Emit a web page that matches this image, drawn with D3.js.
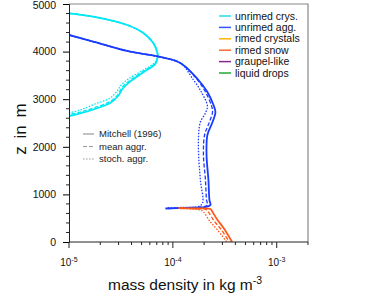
<!DOCTYPE html>
<html><head><meta charset="utf-8">
<script src="https://cdn.jsdelivr.net/npm/d3@7"></script>
<style>body{margin:0;background:#fff}svg{display:block;font-family:"Liberation Sans",Arial,sans-serif}</style>
</head><body><svg id="c" width="368" height="305"></svg>
<script>
// ---- data ----
const zCrysSolid = [4805,4733,4559,4391,4181,3971,3866,3739,3592,3403,3235,3067,2920,2794,2700,2647];
const crysSolid  = [1.0e-5,1.71e-5,3.63e-5,5.19e-5,6.48e-5,7.1e-5,7.1e-5,6.78e-5,5.42e-5,4.06e-5,3.32e-5,2.97e-5,2.49e-5,1.78e-5,1.28e-5,1.0e-5];
const zCrysDash  = [4805,4733,4559,4391,4181,3971,3866,3745,3600,3412,3250,3085,2945,2820,2725,2675];
const crysDash   = [1.0e-5,1.71e-5,3.63e-5,5.19e-5,6.48e-5,7.1e-5,7.1e-5,6.7e-5,5.3e-5,3.95e-5,3.25e-5,2.93e-5,2.45e-5,1.75e-5,1.26e-5,1.0e-5];
const zCrysDot   = [4805,4733,4559,4391,4181,3971,3866,3761,3613,3424,3298,3172,3025,2899,2773,2710];
const crysDot    = [1.0e-5,1.71e-5,3.63e-5,5.19e-5,6.48e-5,7.1e-5,7.1e-5,6.63e-5,5.19e-5,3.72e-5,3.18e-5,2.91e-5,2.49e-5,1.78e-5,1.28e-5,1.0e-5];

const zAggSolid = [4349,4212,4013,3887,3761,3424,3151,2878,2731,2521,2248,1828,1303,882,777,735,718,704];
const aggSolid  = [1e-5,1.71e-5,3.63e-5,7.57e-5,1.18e-4,1.73e-4,2.15e-4,2.46e-4,2.57e-4,2.41e-4,2.15e-4,2.11e-4,2.20e-4,2.25e-4,2.30e-4,2.06e-4,1.32e-4,8.47e-5];
const zAggDash  = [4349,4212,4013,3887,3761,3424,3151,2857,2731,2521,2248,1828,1303,882,777,735,714,704];
const aggDash   = [1e-5,1.71e-5,3.63e-5,7.57e-5,1.18e-4,1.70e-4,2.06e-4,2.36e-4,2.41e-4,2.25e-4,2.02e-4,1.97e-4,2.06e-4,2.11e-4,2.15e-4,1.84e-4,1.18e-4,9.0e-5];
const zAggDot   = [4349,4212,4013,3887,3761,3403,3151,2857,2710,2521,2248,1828,1303,819,745,725,714];
const aggDot    = [1e-5,1.71e-5,3.63e-5,7.57e-5,1.18e-4,1.58e-4,1.88e-4,2.15e-4,2.06e-4,1.84e-4,1.77e-4,1.77e-4,1.84e-4,1.93e-4,1.76e-4,1.18e-4,8.8e-5];

const zSnowSolid = [714,704,693,630,462,294,0];
const snowSolid  = [1.13e-4,1.65e-4,2.30e-4,2.41e-4,2.69e-4,3.08e-4,3.72e-4];
const zSnowDash  = [712,700,680,630,440,270,0];
const snowDash   = [1.15e-4,1.7e-4,2.1e-4,2.2e-4,2.5e-4,2.9e-4,3.5e-4];
const zSnowDot   = [704,672,630,420,252,0];
const snowDot    = [1.18e-4,1.84e-4,1.97e-4,2.30e-4,2.69e-4,3.3e-4];

const legendNames  = ["unrimed crys.","unrimed agg.","rimed crystals","rimed snow","graupel-like","liquid drops"];
const legendColors = ["#22dded","#3355ff","#ffb400","#ff6a33","#8b2a8b","#22aa33"];
const styleNames   = ["Mitchell (1996)","mean aggr.","stoch. aggr."];
const yTicks = [0,1000,2000,3000,4000,5000];
const xTickExp = [-5,-4,-3];

// ---- layout ----
const svg = d3.select("#c");
const L=69, R=308, T=4, B=242;
const x = d3.scaleLog().domain([1e-5,2e-3]).range([L,R]);
const y = d3.scaleLinear().domain([0,5000]).range([B,T]);

svg.append("clipPath").attr("id","clip").append("rect").attr("x",L).attr("y",T).attr("width",R-L).attr("height",B-T);
const g = svg.append("g").attr("clip-path","url(#clip)");

const line = d3.line().x(d=>x(d[1])).y(d=>y(d[0])).curve(d3.curveCatmullRom.alpha(0.5));
const dashes = [null,"4,2","1.5,1.5"];
const seriesSets = [
  {c:"#00e8f4", sets:[[zCrysSolid,crysSolid],[zCrysDash,crysDash],[zCrysDot,crysDot]]},
  {c:"#1a3cff", sets:[[zAggSolid,aggSolid],[zAggDash,aggDash],[zAggDot,aggDot]]},
  {c:"#ff5a1a", sets:[[zSnowSolid,snowSolid],[zSnowDash,snowDash],[zSnowDot,snowDot]]}
];
seriesSets.forEach(s=>{
  s.sets.forEach((p,i)=>{
    const pts = p[0].map((z,k)=>[z,p[1][k]]);
    g.append("path").attr("d",line(pts)).attr("fill","none").attr("stroke",s.c)
      .attr("stroke-width", i===0?1.8:1.3).attr("stroke-dasharray",dashes[i]);
  });
});

// frame
svg.append("path").attr("d",`M${L},${T}H${R}V${B}`).attr("fill","none").attr("stroke","#888").attr("stroke-width",1.2);

// axes
const ya = d3.axisLeft(y).tickValues(yTicks).tickSize(6).tickFormat(d3.format("d"));
const yg = svg.append("g").attr("transform",`translate(${L},0)`).call(ya);
yg.select(".domain").attr("stroke","#222");
yg.selectAll("text").attr("font-size",10.5).attr("fill","#111").attr("x",-13)
  .attr("dy",d=>d===5000?"0.45em":"0.32em");
const yMinor = d3.range(0,5001,200).filter(v=>v%1000!==0);
yg.selectAll(".mn").data(yMinor).enter().append("line").attr("x1",0).attr("x2",-3).attr("y1",d=>y(d)).attr("y2",d=>y(d)).attr("stroke","#222");

const xMinor=[];
[1e-5,1e-4,1e-3].forEach(b=>{for(let k=2;k<=9;k++){const v=b*k; if(v<=2e-3) xMinor.push(v);}});
const xg = svg.append("g").attr("transform",`translate(0,${B})`);
xg.append("line").attr("x1",L).attr("x2",R).attr("stroke","#222");
xg.selectAll(".mj").data(xTickExp).enter().append("line").attr("x1",d=>x(Math.pow(10,d))).attr("x2",d=>x(Math.pow(10,d))).attr("y1",0).attr("y2",6).attr("stroke","#222");
xg.selectAll(".mn").data(xMinor).enter().append("line").attr("x1",d=>x(d)).attr("x2",d=>x(d)).attr("y1",0).attr("y2",3).attr("stroke","#222");
const xl = xg.selectAll(".tl").data(xTickExp).enter().append("text").attr("x",d=>x(Math.pow(10,d))).attr("y",24).attr("text-anchor","middle").attr("font-size",10).attr("fill","#111");
xl.append("tspan").text("10");
xl.append("tspan").attr("dy",-4).attr("font-size",7).text(d=>String(d));

// axis titles
svg.append("text").attr("transform","translate(26,129) rotate(-90)").attr("text-anchor","middle").attr("font-size",17).attr("word-spacing",3).attr("fill","#111").text("z in m");
const xt = svg.append("text").attr("x",108).attr("y",290).attr("font-size",15.5).attr("fill","#111");
xt.append("tspan").text("mass density in kg m");
xt.append("tspan").attr("dy",-6).attr("font-size",10.5).text("-3");

// legend species
const lg = svg.append("g");
legendNames.forEach((n,i)=>{
  const yy = 16 + i*11.4;
  lg.append("line").attr("x1",219).attr("x2",231).attr("y1",yy).attr("y2",yy).attr("stroke",legendColors[i]).attr("stroke-width",1.5);
  lg.append("text").attr("x",235).attr("y",yy+3.6).attr("font-size",10.5).attr("fill","#111").text(n);
});
// legend styles
styleNames.forEach((n,i)=>{
  const yy = 134 + i*12.5;
  lg.append("line").attr("x1",83).attr("x2",94).attr("y1",yy).attr("y2",yy).attr("stroke","#999").attr("stroke-width",1.2).attr("stroke-dasharray",dashes[i]);
  lg.append("text").attr("x",99).attr("y",yy+3.3).attr("font-size",9.5).attr("fill","#222").text(n);
});
</script></body></html>
